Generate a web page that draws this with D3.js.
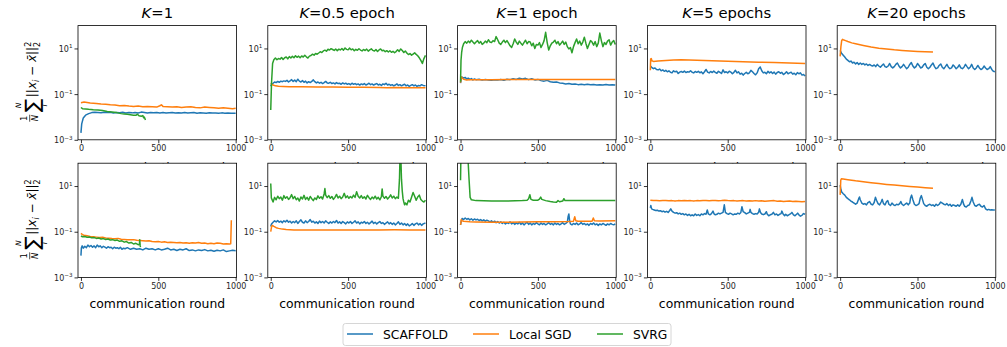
<!DOCTYPE html>
<html><head><meta charset="utf-8">
<script src="https://cdn.jsdelivr.net/npm/d3@7"></script>
<style>body{margin:0;background:#fff}svg{display:block;font-family:"DejaVu Sans",sans-serif}</style>
</head><body><svg id="c" width="1007" height="347"></svg>
<script>
// ---------- data ----------
const methods = ["SCAFFOLD", "Local SGD", "SVRG"];
const colors = ["#1f77b4", "#ff7f0e", "#2ca02c"];
const titleSuffix = ["=1", "=0.5 epoch", "=1 epoch", "=5 epochs", "=20 epochs"];
const xTicks = [0, 500, 1000];
const yTicks = [1e-3, 1e-1, 1e1];
const yTickExp = ["\u22123", "\u22121", "1"];
const xLabel = "communication round";

// top row (first setting)
const scaffoldTop1 = [[0,0.002],[5,0.005],[15,0.009],[30,0.012],[50,0.014],[70,0.0155],[90,0.016],[110,0.0158],[130,0.0152],[150,0.016],[170,0.0155],[190,0.0162],[210,0.015],[230,0.0158],[250,0.0153],[270,0.016],[290,0.0148],[310,0.0155],[330,0.0151],[350,0.0158],[370,0.015],[390,0.0163],[410,0.0156],[430,0.0149],[450,0.0155],[470,0.0152],[490,0.0158],[510,0.015],[530,0.0156],[550,0.0148],[570,0.0153],[590,0.0157],[610,0.0149],[630,0.0154],[650,0.015],[670,0.0156],[690,0.0148],[710,0.0152],[730,0.0155],[750,0.0147],[770,0.0152],[790,0.015],[810,0.0146],[830,0.0153],[850,0.0148],[870,0.015],[890,0.0145],[910,0.0151],[930,0.0147],[950,0.0149],[970,0.0144],[1000,0.0146]];
const localTop1 = [[0,0.042],[20,0.045],[40,0.043],[60,0.041],[80,0.04],[100,0.039],[130,0.037],[160,0.036],[190,0.034],[220,0.033],[250,0.031],[280,0.032],[310,0.03],[340,0.029],[370,0.03],[400,0.028],[430,0.029],[460,0.028],[490,0.027],[510,0.031],[520,0.034],[530,0.029],[560,0.028],[590,0.027],[620,0.028],[650,0.026],[680,0.027],[710,0.028],[740,0.026],[770,0.025],[800,0.027],[830,0.026],[860,0.025],[890,0.024],[920,0.025],[950,0.024],[980,0.023],[1000,0.024]];
const svrgTop1 = [[0,0.026],[10,0.023],[30,0.0225],[50,0.0215],[80,0.0205],[110,0.02],[140,0.019],[170,0.0175],[200,0.0165],[230,0.0155],[260,0.014],[280,0.0135],[300,0.013],[320,0.0125],[340,0.012],[355,0.0118],[365,0.0132],[375,0.0112],[390,0.0108],[400,0.0115],[405,0.0092],[410,0.0098],[417,0.0074]];

const scaffoldTop2 = [[0,0.22],[5,0.26],[15,0.3],[25,0.34],[35,0.32],[45,0.36],[55,0.33],[65,0.37],[75,0.35],[85,0.38],[95,0.36],[105,0.4],[115,0.34],[125,0.38],[135,0.43],[145,0.36],[155,0.41],[165,0.35],[175,0.45],[185,0.37],[195,0.34],[205,0.39],[215,0.33],[225,0.37],[235,0.31],[245,0.35],[255,0.32],[265,0.36],[275,0.42],[285,0.35],[295,0.31],[305,0.34],[315,0.3],[325,0.33],[335,0.29],[345,0.32],[355,0.36],[365,0.31],[375,0.3],[385,0.33],[395,0.29],[405,0.31],[415,0.28],[425,0.32],[435,0.29],[445,0.3],[455,0.27],[465,0.31],[475,0.28],[485,0.3],[495,0.27],[505,0.29],[515,0.26],[525,0.3],[535,0.27],[545,0.29],[555,0.26],[565,0.28],[575,0.25],[585,0.28],[595,0.26],[605,0.29],[615,0.25],[625,0.27],[635,0.3],[645,0.26],[655,0.28],[665,0.25],[675,0.27],[685,0.29],[695,0.25],[705,0.27],[715,0.24],[725,0.28],[735,0.26],[745,0.3],[755,0.25],[765,0.27],[775,0.24],[785,0.26],[795,0.23],[805,0.25],[815,0.28],[825,0.24],[835,0.26],[845,0.23],[855,0.25],[865,0.27],[875,0.23],[885,0.25],[895,0.22],[905,0.24],[915,0.26],[925,0.23],[935,0.25],[945,0.22],[955,0.24],[965,0.23],[975,0.26],[985,0.24],[1000,0.23]];
const localTop2 = [[0,0.3],[5,0.28],[15,0.25],[30,0.23],[50,0.22],[80,0.215],[120,0.21],[200,0.21],[300,0.205],[400,0.205],[500,0.2],[600,0.2],[700,0.195],[750,0.19],[800,0.195],[900,0.19],[1000,0.19]];
const svrgTop2 = [[0,0.02],[5,0.3],[12,2.2],[20,3.2],[30,3.8],[40,3.2],[50,3.6],[60,3.4],[70,4.0],[80,3.3],[90,3.9],[100,4.2],[110,3.5],[120,4.4],[130,3.8],[140,4.5],[150,3.9],[160,4.8],[170,4.1],[180,4.6],[190,3.9],[200,4.7],[210,4.2],[220,5.0],[230,4.3],[240,3.8],[250,4.6],[260,4.9],[270,5.6],[280,5.1],[290,6.0],[300,5.6],[310,6.3],[320,7.2],[330,6.6],[340,7.8],[350,8.4],[360,7.6],[370,9.2],[380,8.5],[390,9.8],[400,9.0],[410,8.2],[420,9.4],[430,8.0],[440,9.3],[450,8.6],[460,9.9],[470,8.4],[480,10.5],[490,9.1],[500,8.8],[510,10.3],[520,8.7],[530,9.5],[540,7.9],[550,9.2],[560,8.3],[570,9.7],[580,8.5],[590,7.8],[600,9.0],[610,8.1],[620,9.3],[630,7.6],[640,8.7],[650,9.6],[660,8.2],[670,7.7],[680,8.9],[690,7.4],[700,8.6],[710,9.5],[720,7.9],[730,8.3],[740,7.2],[750,8.0],[760,7.0],[770,7.9],[780,6.8],[790,7.5],[800,6.5],[810,7.3],[820,8.8],[830,7.4],[840,9.5],[850,8.1],[860,6.6],[870,7.7],[880,6.2],[890,5.4],[900,6.0],[910,5.1],[920,5.7],[930,6.4],[940,5.5],[950,4.8],[960,3.9],[970,3.0],[980,2.2],[990,3.6],[1000,5.0]];

const scaffoldTop3 = [[0,0.3],[5,0.5],[10,0.56],[20,0.5],[30,0.54],[40,0.46],[50,0.5],[60,0.44],[70,0.48],[80,0.42],[90,0.46],[100,0.43],[120,0.45],[140,0.41],[160,0.44],[180,0.42],[200,0.4],[220,0.43],[240,0.41],[260,0.44],[280,0.4],[300,0.45],[320,0.43],[340,0.47],[360,0.44],[380,0.5],[400,0.46],[420,0.49],[440,0.43],[460,0.47],[480,0.42],[500,0.44],[520,0.39],[540,0.37],[560,0.4],[580,0.35],[600,0.33],[620,0.34],[640,0.31],[660,0.3],[680,0.28],[700,0.29],[720,0.27],[740,0.28],[760,0.26],[780,0.27],[800,0.26],[820,0.27],[840,0.255],[860,0.265],[880,0.25],[900,0.26],[920,0.25],[940,0.265],[960,0.25],[980,0.26],[1000,0.25]];
const localTop3 = [[0,0.32],[4,0.58],[10,0.52],[20,0.45],[35,0.42],[60,0.43],[100,0.43],[200,0.43],[300,0.44],[400,0.44],[500,0.44],[600,0.44],[700,0.44],[800,0.44],[900,0.44],[1000,0.44]];
const svrgTop3 = [[0,0.35],[3,3.0],[7,6.5],[12,11],[20,16],[30,20],[40,17],[50,21],[60,18],[70,23],[80,19],[90,16],[100,19],[110,22],[120,17],[130,20],[140,15],[150,17],[160,21],[170,18],[180,24],[190,19],[200,18],[210,22],[220,20],[230,33],[240,24],[250,17],[260,15],[270,19],[280,23],[290,18],[300,22],[310,17],[320,13],[330,11],[340,16],[350,26],[360,19],[370,15],[380,21],[390,17],[400,14],[410,18],[420,23],[430,16],[440,20],[450,19],[460,13],[470,17],[480,10],[490,15],[500,14],[510,18],[520,11],[530,15],[540,22],[550,51],[560,18],[570,8.5],[580,13],[590,17],[600,19],[610,23],[620,16],[630,20],[640,14],[650,17],[660,21],[670,15],[680,19],[690,12],[700,9.5],[710,11],[720,6.5],[730,12],[740,18],[750,26],[760,16],[770,21],[780,14],[790,19],[800,31],[810,17],[820,10],[830,15],[840,22],[850,19],[860,14],[870,20],[880,12],[890,17],[900,47],[910,22],[920,12],[930,18],[940,15],[950,21],[960,24],[970,14],[980,19],[990,22],[1000,15]];

const scaffoldTop4 = [[0,1.7],[5,1.6],[10,1.45],[20,1.3],[30,1.4],[40,1.2],[50,1.15],[60,1.25],[70,1.05],[80,1.15],[90,1.0],[100,1.1],[110,0.95],[120,1.05],[130,0.9],[140,0.85],[150,1.05],[160,0.95],[170,1.0],[180,0.8],[190,0.92],[200,0.98],[210,0.9],[220,1.02],[230,0.88],[240,0.96],[250,0.92],[260,1.05],[270,0.9],[280,0.85],[290,0.98],[300,0.9],[310,1.0],[320,0.86],[330,0.94],[340,0.78],[350,0.95],[360,1.2],[370,0.92],[380,0.85],[390,0.98],[400,0.88],[410,1.02],[420,0.9],[430,0.82],[440,1.0],[450,0.9],[460,0.8],[470,1.15],[480,0.88],[490,0.95],[500,0.85],[510,1.0],[520,0.92],[530,0.78],[540,0.9],[550,1.1],[560,0.85],[570,0.95],[580,0.75],[590,0.82],[600,0.68],[610,0.8],[620,0.9],[630,0.78],[640,0.85],[650,1.1],[660,0.95],[670,0.8],[680,0.7],[690,0.85],[700,1.3],[710,1.55],[720,1.05],[730,0.85],[740,0.9],[750,0.78],[760,1.0],[770,0.85],[780,0.95],[790,0.8],[800,0.92],[810,0.75],[820,0.88],[830,0.95],[840,0.82],[850,0.9],[860,0.72],[870,0.8],[880,0.95],[890,0.78],[900,0.85],[910,0.9],[920,0.75],[930,0.82],[940,0.7],[950,0.88],[960,0.78],[970,0.85],[980,0.68],[990,0.72],[1000,0.62]];
const localTop4 = [[0,1.1],[2,3.5],[6,3.6],[10,2.9],[20,2.7],[50,2.8],[100,3.0],[150,3.15],[200,3.2],[250,3.15],[300,3.05],[400,2.9],[500,2.75],[600,2.6],[700,2.5],[800,2.4],[900,2.3],[1000,2.2]];
const svrgTop4 = [];

const scaffoldTop5 = [[0,8.2],[10,6],[20,5],[30,4.2],[40,3.4],[50,3.0],[60,2.6],[70,2.8],[80,2.3],[90,2.5],[100,2.1],[110,2.4],[120,2.0],[130,2.3],[140,2.0],[150,2.2],[160,1.9],[170,2.1],[180,1.8],[190,2.0],[200,1.8],[210,1.7],[220,1.9],[230,1.6],[240,2.0],[250,1.7],[260,1.5],[270,1.8],[280,2.1],[290,1.6],[300,1.5],[310,1.7],[320,2.2],[330,1.6],[340,1.4],[350,1.6],[360,2.0],[370,2.3],[380,1.7],[390,1.4],[400,1.6],[410,2.0],[420,1.6],[430,1.3],[440,1.5],[450,2.0],[460,2.4],[470,1.7],[480,1.4],[490,1.6],[500,2.2],[510,1.8],[520,1.4],[530,1.5],[540,1.9],[550,2.2],[560,1.5],[570,1.3],[580,1.5],[590,1.9],[600,2.3],[610,1.6],[620,1.3],[630,1.4],[640,1.8],[650,2.1],[660,1.5],[670,1.3],[680,1.6],[690,2.0],[700,1.5],[710,1.3],[720,1.4],[730,1.9],[740,1.6],[750,1.3],[760,1.5],[770,1.9],[780,1.4],[790,1.3],[800,1.5],[810,2.0],[820,1.6],[830,1.3],[840,1.5],[850,2.0],[860,1.4],[870,1.2],[880,1.4],[890,1.8],[900,1.4],[910,1.2],[920,1.3],[930,1.7],[940,1.4],[950,1.2],[960,1.3],[970,1.6],[980,1.2],[990,1.0],[1000,0.95]];
const localTop5 = [[0,4.5],[5,12],[10,22],[15,25],[20,24],[35,22],[50,20],[75,17.5],[100,16],[150,13.5],[200,11.5],[250,10.3],[300,9.4],[350,8.7],[400,8.2],[450,7.8],[500,7.4],[550,7.1],[600,6.9]];
const svrgTop5 = [];

// bottom row (second setting)
const scaffoldBot1 = [[0,0.009],[3,0.02],[8,0.024],[15,0.019],[25,0.023],[35,0.02],[45,0.026],[55,0.022],[65,0.025],[75,0.021],[85,0.024],[95,0.02],[105,0.026],[115,0.022],[125,0.024],[135,0.02],[145,0.023],[155,0.021],[165,0.019],[175,0.022],[185,0.02],[195,0.021],[205,0.018],[215,0.021],[225,0.019],[235,0.02],[245,0.018],[255,0.021],[265,0.017],[275,0.019],[285,0.018],[300,0.02],[320,0.017],[340,0.019],[360,0.017],[380,0.018],[400,0.016],[420,0.019],[440,0.017],[460,0.018],[480,0.016],[500,0.018],[520,0.016],[540,0.017],[560,0.019],[580,0.016],[600,0.017],[620,0.015],[640,0.017],[660,0.016],[680,0.018],[700,0.015],[720,0.016],[740,0.0145],[760,0.016],[780,0.015],[800,0.0165],[820,0.0145],[840,0.0155],[860,0.014],[880,0.0155],[900,0.0145],[920,0.016],[940,0.0135],[960,0.0145],[980,0.0155],[1000,0.0148]];
const localBot1 = [[0,0.085],[10,0.075],[20,0.07],[40,0.066],[60,0.062],[80,0.06],[100,0.058],[120,0.056],[140,0.057],[160,0.053],[180,0.052],[200,0.05],[220,0.049],[240,0.051],[260,0.047],[280,0.046],[300,0.045],[320,0.044],[340,0.045],[360,0.042],[380,0.041],[400,0.04],[420,0.039],[440,0.04],[460,0.037],[480,0.036],[500,0.037],[520,0.035],[540,0.036],[560,0.034],[580,0.035],[600,0.034],[620,0.033],[640,0.034],[660,0.032],[680,0.033],[700,0.031],[720,0.033],[740,0.032],[760,0.034],[780,0.031],[800,0.032],[820,0.03],[840,0.031],[860,0.03],[880,0.032],[900,0.031],[920,0.029],[940,0.03],[960,0.029],[968,0.03],[972,0.32]];
const svrgBot1 = [[0,0.065],[10,0.06],[25,0.062],[40,0.057],[55,0.059],[70,0.054],[85,0.056],[100,0.051],[115,0.053],[130,0.048],[145,0.05],[160,0.046],[175,0.048],[190,0.043],[205,0.045],[220,0.041],[235,0.043],[250,0.038],[265,0.04],[280,0.035],[295,0.037],[310,0.032],[325,0.034],[340,0.029],[355,0.031],[370,0.027],[378,0.028],[380,0.045],[383,0.024],[385,0.021]];

const scaffoldBot2 = [[0,0.17],[5,0.22],[15,0.26],[25,0.3],[35,0.27],[45,0.31],[55,0.26],[65,0.29],[75,0.25],[85,0.3],[95,0.27],[105,0.32],[115,0.26],[125,0.29],[135,0.24],[145,0.28],[155,0.25],[165,0.3],[175,0.23],[185,0.28],[195,0.33],[205,0.26],[215,0.24],[225,0.3],[235,0.25],[245,0.28],[255,0.34],[265,0.26],[275,0.29],[285,0.24],[295,0.27],[305,0.23],[315,0.29],[325,0.25],[335,0.28],[345,0.24],[355,0.3],[365,0.26],[375,0.23],[385,0.27],[395,0.24],[405,0.28],[415,0.25],[425,0.31],[435,0.24],[445,0.27],[455,0.23],[465,0.28],[475,0.25],[485,0.22],[495,0.27],[505,0.24],[515,0.28],[525,0.23],[535,0.26],[545,0.3],[555,0.24],[565,0.27],[575,0.22],[585,0.26],[595,0.24],[605,0.28],[615,0.23],[625,0.26],[635,0.22],[645,0.25],[655,0.29],[665,0.23],[675,0.26],[685,0.22],[695,0.25],[705,0.28],[715,0.23],[725,0.25],[735,0.21],[745,0.24],[755,0.27],[765,0.22],[775,0.25],[785,0.21],[795,0.24],[805,0.2],[815,0.23],[825,0.27],[835,0.21],[845,0.24],[855,0.2],[865,0.23],[875,0.19],[885,0.22],[895,0.18],[905,0.2],[915,0.23],[925,0.19],[935,0.22],[945,0.24],[955,0.2],[965,0.23],[975,0.19],[985,0.22],[1000,0.24]];
const localBot2 = [[0,0.1],[5,0.16],[10,0.19],[20,0.17],[35,0.15],[50,0.14],[75,0.13],[100,0.125],[150,0.12],[200,0.12],[300,0.118],[400,0.118],[500,0.118],[600,0.12],[700,0.12],[800,0.122],[900,0.12],[1000,0.12]];
const svrgBot2 = [[0,13],[4,3],[8,2.6],[15,2.0],[25,3.2],[35,2.5],[45,3.6],[55,2.8],[65,3.3],[75,2.4],[85,3.8],[95,2.9],[105,3.4],[115,2.6],[125,3.1],[135,4.2],[145,2.8],[155,3.5],[165,2.5],[175,3.0],[185,2.2],[195,3.3],[205,2.7],[215,3.9],[225,2.6],[235,3.2],[245,2.4],[255,3.5],[265,2.8],[275,2.3],[285,3.0],[295,2.6],[305,3.7],[315,2.9],[325,3.4],[335,2.7],[345,4.5],[350,7.8],[355,4.0],[365,3.1],[375,3.8],[385,2.9],[395,3.5],[405,2.6],[415,3.2],[425,4.3],[435,3.0],[445,3.6],[455,2.8],[465,3.3],[475,4.8],[485,3.1],[495,3.7],[505,2.9],[515,3.5],[525,3.0],[535,4.0],[545,3.2],[555,5.6],[565,3.6],[575,3.0],[585,3.8],[595,2.9],[605,3.4],[615,2.7],[625,3.9],[635,3.1],[645,2.6],[655,3.3],[665,2.8],[675,3.6],[685,2.7],[695,3.2],[705,2.5],[715,3.4],[720,7.5],[725,3.6],[735,2.9],[745,3.5],[755,2.7],[765,3.2],[775,4.1],[785,3.0],[795,3.6],[805,2.8],[815,3.3],[825,2.9],[832,20],[836,300],[840,300],[845,20],[850,6],[855,2.8],[860,2.0],[865,1.5],[870,1.8],[880,1.5],[890,2.4],[900,2.0],[910,3.2],[920,5.2],[930,3.6],[940,2.4],[950,3.3],[960,4.0],[970,2.6],[980,2.2],[990,2.0],[1000,2.4]];

const scaffoldBot3 = [[0,0.2],[5,0.3],[10,0.38],[20,0.34],[30,0.4],[40,0.35],[50,0.38],[60,0.33],[70,0.37],[80,0.32],[90,0.36],[100,0.33],[110,0.35],[120,0.31],[130,0.34],[140,0.3],[150,0.33],[160,0.29],[170,0.32],[180,0.3],[190,0.27],[200,0.3],[210,0.26],[220,0.29],[230,0.25],[240,0.28],[250,0.24],[260,0.27],[270,0.23],[280,0.26],[290,0.22],[300,0.25],[310,0.23],[320,0.27],[330,0.22],[340,0.25],[350,0.21],[360,0.24],[370,0.22],[380,0.26],[390,0.21],[400,0.24],[410,0.2],[420,0.23],[430,0.26],[440,0.21],[450,0.24],[460,0.2],[470,0.23],[480,0.21],[490,0.25],[500,0.22],[510,0.2],[520,0.24],[530,0.21],[540,0.23],[550,0.2],[560,0.22],[570,0.25],[580,0.21],[590,0.23],[600,0.2],[610,0.24],[620,0.21],[630,0.23],[640,0.2],[650,0.22],[660,0.25],[670,0.21],[680,0.23],[690,0.26],[695,0.45],[700,0.6],[705,0.3],[710,0.22],[720,0.2],[730,0.23],[740,0.21],[750,0.24],[760,0.2],[770,0.22],[780,0.25],[790,0.21],[800,0.23],[810,0.2],[820,0.22],[830,0.19],[840,0.23],[850,0.21],[860,0.24],[870,0.2],[880,0.22],[890,0.19],[900,0.22],[910,0.2],[920,0.23],[930,0.21],[940,0.19],[950,0.22],[960,0.2],[970,0.23],[980,0.21],[990,0.2],[1000,0.22]];
const localBot3 = [[0,0.2],[5,0.34],[10,0.3],[20,0.29],[40,0.28],[60,0.27],[100,0.265],[200,0.26],[300,0.26],[400,0.265],[500,0.27],[600,0.275],[700,0.28],[730,0.29],[738,0.45],[745,0.3],[760,0.285],[800,0.29],[850,0.29],[858,0.4],[865,0.3],[900,0.295],[1000,0.3]];
const svrgBot3 = [[0,18],[3,400],[45,400],[55,20],[62,3.2],[70,2.5],[100,2.3],[200,2.2],[300,2.2],[400,2.3],[430,2.4],[440,2.8],[448,4.2],[455,2.6],[470,2.4],[500,2.4],[510,2.7],[518,3.3],[525,2.6],[550,2.3],[580,2.1],[600,2.0],[620,1.95],[630,2.3],[640,2.05],[660,2.2],[668,2.8],[675,2.3],[700,2.3],[800,2.3],[900,2.3],[1000,2.3]];

const scaffoldBot4 = [[0,1.1],[3,1.4],[8,1.0],[15,0.95],[25,0.9],[35,0.85],[45,0.88],[55,0.8],[65,0.83],[75,0.75],[85,0.8],[95,0.72],[105,0.78],[115,0.7],[125,0.85],[132,1.0],[140,0.8],[150,0.7],[160,0.65],[170,0.68],[180,0.6],[190,0.65],[200,0.58],[210,0.62],[220,0.55],[230,0.6],[240,0.52],[250,0.58],[260,0.5],[270,0.55],[280,0.5],[290,0.6],[300,0.52],[310,0.56],[320,0.5],[330,0.6],[340,0.55],[350,0.62],[360,0.58],[368,0.9],[375,0.6],[385,0.55],[395,0.62],[405,0.8],[412,0.6],[420,0.55],[430,0.58],[440,0.65],[450,0.6],[460,0.65],[470,0.7],[478,1.5],[485,0.7],[495,0.62],[505,0.58],[515,0.65],[525,0.6],[535,0.55],[545,0.6],[555,0.58],[565,0.65],[575,0.6],[585,0.7],[592,1.25],[600,0.75],[610,0.68],[620,0.6],[630,0.65],[640,0.7],[645,0.95],[650,0.7],[660,0.62],[670,0.58],[680,0.62],[690,0.6],[700,0.72],[705,1.0],[712,0.7],[720,0.6],[730,0.56],[740,0.6],[750,0.75],[755,0.6],[765,0.5],[775,0.55],[785,0.58],[795,0.7],[805,0.55],[815,0.6],[825,0.52],[835,0.58],[845,0.62],[850,0.8],[858,0.6],[868,0.5],[875,0.58],[885,0.5],[895,0.55],[905,0.6],[915,0.7],[925,0.55],[935,0.5],[945,0.58],[952,0.65],[960,0.55],[970,0.48],[980,0.52],[990,0.62],[1000,0.58]];
const localBot4 = [[0,2.4],[20,2.3],[40,2.35],[60,2.25],[80,2.3],[100,2.35],[120,2.25],[140,2.3],[160,2.2],[180,2.3],[200,2.25],[220,2.35],[240,2.25],[260,2.3],[280,2.2],[300,2.3],[320,2.25],[340,2.35],[360,2.3],[380,2.25],[400,2.3],[420,2.35],[440,2.25],[460,2.3],[480,2.4],[500,2.3],[520,2.25],[540,2.3],[560,2.2],[580,2.25],[600,2.3],[620,2.2],[640,2.25],[660,2.2],[680,2.3],[700,2.2],[720,2.25],[740,2.15],[760,2.2],[780,2.25],[800,2.3],[820,2.15],[840,2.2],[860,2.1],[880,2.15],[900,2.2],[920,2.1],[940,2.15],[960,2.1],[980,2.05],[1000,2.1]];
const svrgBot4 = [];

const scaffoldBot5 = [[0,11],[5,7],[10,5.5],[20,4.6],[30,4.0],[40,3.2],[50,2.8],[60,2.5],[70,2.2],[80,2.0],[90,1.8],[100,1.6],[110,1.8],[120,2.8],[125,3.3],[130,2.5],[140,1.8],[150,1.6],[160,1.7],[170,1.5],[180,1.9],[190,2.1],[200,1.6],[210,1.5],[220,1.9],[228,3.2],[235,2.4],[245,1.7],[255,1.5],[265,2.0],[272,2.6],[280,1.7],[290,1.5],[300,2.1],[308,2.3],[315,1.6],[325,1.4],[335,1.8],[345,1.5],[355,1.4],[365,1.6],[375,1.5],[385,1.7],[392,2.1],[400,1.6],[410,1.4],[420,1.6],[430,1.8],[440,1.5],[450,1.8],[455,3.0],[462,4.0],[470,2.5],[480,1.6],[490,1.4],[500,1.5],[510,1.7],[518,3.0],[525,3.8],[532,2.6],[540,1.7],[550,1.4],[560,1.3],[570,1.5],[580,1.6],[590,1.4],[600,1.5],[610,1.3],[620,1.6],[630,1.4],[640,1.6],[650,2.0],[660,1.8],[670,1.6],[680,1.5],[690,1.7],[700,1.4],[710,1.6],[720,1.3],[730,1.5],[740,1.4],[750,1.3],[760,1.5],[770,1.3],[780,1.6],[790,2.6],[798,1.6],[805,1.3],[815,1.2],[825,1.4],[835,1.5],[845,2.2],[852,3.2],[860,2.0],[870,1.4],[880,1.3],[890,1.5],[900,1.6],[910,1.3],[920,1.2],[930,1.4],[940,1.0],[950,0.9],[960,0.95],[970,0.9],[980,0.92],[990,0.9],[1000,0.9]];
const localBot5 = [[0,4.1],[4,18],[8,21],[20,20.5],[50,19],[100,17],[150,15.5],[200,14],[250,12.8],[300,11.8],[350,11],[400,10.2],[450,9.6],[500,9],[550,8.5],[600,8.1]];
const svrgBot5 = [];

const topRow = [[scaffoldTop1,localTop1,svrgTop1],[scaffoldTop2,localTop2,svrgTop2],[scaffoldTop3,localTop3,svrgTop3],[scaffoldTop4,localTop4,svrgTop4],[scaffoldTop5,localTop5,svrgTop5]];
const botRow = [[scaffoldBot1,localBot1,svrgBot1],[scaffoldBot2,localBot2,svrgBot2],[scaffoldBot3,localBot3,svrgBot3],[scaffoldBot4,localBot4,svrgBot4],[scaffoldBot5,localBot5,svrgBot5]];

// ---------- drawing ----------
const svg = d3.select("#c");
const FONT = "DejaVu Sans";
const panelW = 158.6, panelH = 114.2;
const lefts = [0,1,2,3,4].map(i => 78 + i * 189.8);
const tops = [25.6, 163.2];

function drawYLabel(bx, cy) {
  const g = svg.append("g").attr("transform", `translate(${bx},${cy}) rotate(-90)`)
    .attr("font-family", FONT).attr("fill", "#000");
  // fraction 1/N
  g.append("text").attr("x", -35.5).attr("y", -9).attr("font-size", 8.5).attr("text-anchor", "middle").text("1");
  g.append("line").attr("x1", -39).attr("x2", -32).attr("y1", -6.3).attr("y2", -6.3).attr("stroke", "#000").attr("stroke-width", 0.7);
  g.append("text").attr("x", -35.5).attr("y", 1.5).attr("font-size", 8.5).attr("font-style", "italic").attr("text-anchor", "middle").text("N");
  // big sum with limits
  g.append("text").attr("x", -29.5).attr("y", 3).attr("font-size", 20).text("\u2211");
  g.append("text").attr("x", -22.8).attr("y", -15.5).attr("font-size", 7.5).attr("font-style", "italic").attr("text-anchor", "middle").text("N");
  g.append("text").attr("x", -22.8).attr("y", 10.5).attr("font-size", 7.5).attr("font-style", "italic").attr("text-anchor", "middle").text("i");
  // ||x_i - xbar||_2^2
  const t = g.append("text").attr("x", -14.5).attr("y", 0).attr("font-size", 12);
  t.append("tspan").text("||");
  t.append("tspan").attr("font-style", "italic").text("x");
  t.append("tspan").attr("font-size", 8).attr("font-style", "italic").attr("dy", 2.8).text("i");
  t.append("tspan").attr("dy", -2.8).text(" \u2212 ");
  t.append("tspan").attr("font-style", "italic").text("x\u0304");
  t.append("tspan").text("||");
  t.append("tspan").attr("font-size", 8).attr("dy", -5.5).text("2");
  t.append("tspan").attr("font-size", 8).attr("dx", -5.1).attr("dy", 9).text("2");
}

function drawPanel(row, col, seriesList) {
  const x0 = lefts[col], y0 = tops[row];
  const g = svg.append("g").attr("transform", `translate(${x0},${y0})`);
  g.append("rect").attr("width", panelW).attr("height", panelH).attr("fill", "#fff");
  const x = d3.scaleLinear().domain([-19, 1006]).range([0, panelW]);
  const y = d3.scaleLog().domain([1e-3, 1e2]).range([panelH, 0]);
  const clipId = `clip-${row}-${col}`;
  g.append("clipPath").attr("id", clipId).append("rect").attr("width", panelW).attr("height", panelH);
  const line = d3.line().x(d => x(d[0])).y(d => y(d[1]));
  const lg = g.append("g").attr("clip-path", `url(#${clipId})`);
  seriesList.forEach((s, i) => {
    if (!s.length) return;
    lg.append("path").datum(s).attr("d", line).attr("fill", "none")
      .attr("stroke", colors[i]).attr("stroke-width", 1.5).attr("stroke-linejoin", "round");
  });
  // x axis
  const xa = d3.axisBottom(x).tickValues(xTicks).tickSize(3.5).tickPadding(2.5).tickFormat(d3.format("d"));
  const xg = g.append("g").attr("transform", `translate(0,${panelH})`).call(xa);
  xg.select(".domain").remove();
  xg.selectAll("line").attr("stroke", "#000").attr("stroke-width", 0.8);
  xg.selectAll("text").attr("font-family", FONT).attr("font-size", 8).attr("fill", "#262626");
  // y axis
  const ya = d3.axisLeft(y).tickValues(yTicks).tickSize(3.5).tickFormat(() => "");
  const yg = g.append("g").call(ya);
  yg.select(".domain").remove();
  yg.selectAll("line").attr("stroke", "#000").attr("stroke-width", 0.8);
  yg.selectAll(".tick").each(function(d, i) {
    const tt = d3.select(this).select("text").text(null)
      .attr("font-family", FONT).attr("font-size", 8).attr("fill", "#262626")
      .attr("x", -5.5).attr("dy", "0.36em").attr("text-anchor", "end");
    tt.append("tspan").text("10");
    tt.append("tspan").attr("font-size", 5.6).attr("dy", -3.6).text(yTickExp[i]);
  });
  // frame
  g.append("rect").attr("width", panelW).attr("height", panelH).attr("fill", "none")
    .attr("stroke", "#000").attr("stroke-width", 0.8);
  // x label (top row label is mostly hidden behind the lower panels)
  g.append("text").attr("x", panelW / 2).attr("y", panelH + 30.5 + (row === 0 ? 1.5 : 0)).attr("text-anchor", "middle")
    .attr("font-family", FONT).attr("font-size", 12.4).attr("fill", "#000").text(xLabel);
}

// titles
titleSuffix.forEach((s, i) => {
  const t = svg.append("text").attr("x", lefts[i] + panelW / 2).attr("y", 17.5)
    .attr("text-anchor", "middle").attr("font-family", FONT).attr("font-size", 14.8).attr("fill", "#000");
  t.append("tspan").attr("font-style", "italic").text("K");
  t.append("tspan").text(s);
});

topRow.forEach((s, i) => drawPanel(0, i, s));
botRow.forEach((s, i) => drawPanel(1, i, s));

drawYLabel(36, tops[0] + panelH / 2);
drawYLabel(36, tops[1] + panelH / 2);

// legend
const leg = svg.append("g").attr("transform", "translate(343,323.5)");
leg.append("rect").attr("width", 328).attr("height", 22).attr("rx", 2.5).attr("fill", "#fff")
  .attr("stroke", "#cccccc").attr("stroke-width", 0.8);
const legX = [4, 130, 254];
methods.forEach((m, i) => {
  leg.append("line").attr("x1", legX[i]).attr("x2", legX[i] + 26).attr("y1", 10.5).attr("y2", 10.5)
    .attr("stroke", colors[i]).attr("stroke-width", 1.5);
  leg.append("text").attr("x", legX[i] + 36).attr("y", 15).attr("font-family", FONT).attr("font-size", 12.3)
    .attr("fill", "#000").text(m);
});
</script></body></html>
